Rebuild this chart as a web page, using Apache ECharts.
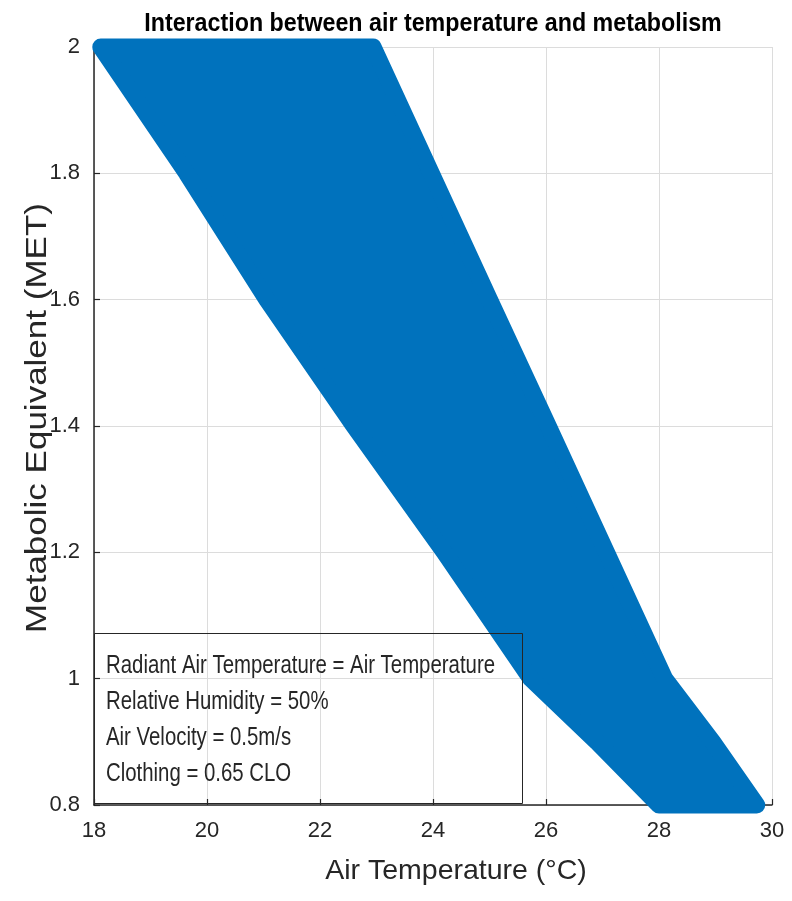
<!DOCTYPE html>
<html>
<head>
<meta charset="utf-8">
<script src="https://cdn.jsdelivr.net/npm/echarts@6/dist/echarts.min.js"></script>
<style>
  html, body { margin: 0; padding: 0; background: #ffffff; }
  #chart { width: 792px; height: 901px; }
</style>
</head>
<body>
<div id="chart"></div>
<script>
// Comfort band: for each metabolic rate, the coolest and warmest air temperature that stays comfortable
const metLevels = [2.0, 1.8, 1.6, 1.4, 1.2, 1.0, 0.9, 0.8];
const coolLimit = [18.12, 19.64, 21.06, 22.6, 24.2, 25.73, 26.9, 28.0];
const warmLimit = [22.94, 23.97, 25.0, 26.04, 27.07, 28.1, 28.95, 29.73];

// Axis ranges and tick steps
const xRange = [18, 30];
const xStep = 2;
const yRange = [0.8, 2.0];
const yStep = 0.2;

const titleText = 'Interaction between air temperature and metabolism';
const xName = 'Air Temperature (\u00B0C)';
const yName = 'Metabolic Equivalent (MET)';
const noteLines = [
  'Radiant Air Temperature = Air Temperature',
  'Relative Humidity = 50%',
  'Air Velocity = 0.5m/s',
  'Clothing = 0.65 CLO'
];

const BLUE = '#0072BD';
const INK = '#262626';
const FONT = '"Liberation Sans", Arial, Helvetica, sans-serif';

// Closed outline: cool edge from top to bottom, then warm edge from bottom to top
const outline = [];
for (let i = 0; i < metLevels.length; i++) outline.push([coolLimit[i], metLevels[i]]);
for (let i = metLevels.length - 1; i >= 0; i--) outline.push([warmLimit[i], metLevels[i]]);

const chart = echarts.init(document.getElementById('chart'), null, { renderer: 'canvas' });

// Text block inside the framed note (narrowed horizontally)
const noteTexts = noteLines.map((t, i) => ({
  type: 'text',
  x: 106,
  y: 666 + i * 36,
  scaleX: 0.815,
  style: {
    text: t,
    fill: INK,
    fontFamily: FONT,
    fontSize: 25,
    textAlign: 'left',
    textVerticalAlign: 'middle'
  },
  z: 100
}));

chart.setOption({
  animation: false,
  backgroundColor: '#ffffff',
  grid: { left: 94, right: 20, top: 47, bottom: 96, containLabel: false },
  xAxis: {
    type: 'value',
    min: xRange[0],
    max: xRange[1],
    interval: xStep,
    axisLine: { show: true, onZero: false, lineStyle: { color: INK, width: 1.5 } },
    axisTick: { show: true, inside: true, length: 6, lineStyle: { color: INK, width: 1.2 } },
    axisLabel: { color: INK, fontFamily: FONT, fontSize: 22, margin: 15 },
    splitLine: { show: true, lineStyle: { color: '#dcdcdc', width: 1 } }
  },
  yAxis: {
    type: 'value',
    min: yRange[0],
    max: yRange[1],
    interval: yStep,
    axisLine: { show: true, onZero: false, lineStyle: { color: INK, width: 1.5 } },
    axisTick: { show: true, inside: true, length: 6, lineStyle: { color: INK, width: 1.2 } },
    axisLabel: {
      color: INK, fontFamily: FONT, fontSize: 22, margin: 14,
      formatter: v => (Math.abs(v - Math.round(v)) < 1e-9 ? String(Math.round(v)) : v.toFixed(1))
    },
    splitLine: { show: true, lineStyle: { color: '#dcdcdc', width: 1 } }
  },
  series: [{
    type: 'custom',
    clip: false,
    data: [0],
    renderItem: function (params, api) {
      const pts = outline.map(p => api.coord(p));
      return {
        type: 'polygon',
        shape: { points: pts },
        style: { fill: BLUE, stroke: BLUE, lineWidth: 17, lineJoin: 'round' }
      };
    },
    z: 2
  }],
  graphic: [
    {
      type: 'text',
      x: 433, y: 24,
      scaleX: 0.93,
      style: {
        text: titleText, fill: '#000000', fontFamily: FONT, fontWeight: 'bold',
        fontSize: 25, textAlign: 'center', textVerticalAlign: 'middle'
      }
    },
    {
      type: 'text',
      x: 456, y: 871,
      style: {
        text: xName, fill: INK, fontFamily: FONT, fontSize: 28.5,
        textAlign: 'center', textVerticalAlign: 'middle'
      }
    },
    {
      type: 'text',
      x: 38, y: 418,
      rotation: Math.PI / 2,
      scaleY: 0.85,
      style: {
        text: yName, fill: INK, fontFamily: FONT, fontSize: 35,
        textAlign: 'center', textVerticalAlign: 'middle'
      }
    },
    {
      type: 'rect',
      shape: { x: 94.5, y: 633.5, width: 428, height: 170 },
      style: { fill: 'none', stroke: INK, lineWidth: 1 },
      z: 100
    }
  ].concat(noteTexts)
});
</script>
</body>
</html>
